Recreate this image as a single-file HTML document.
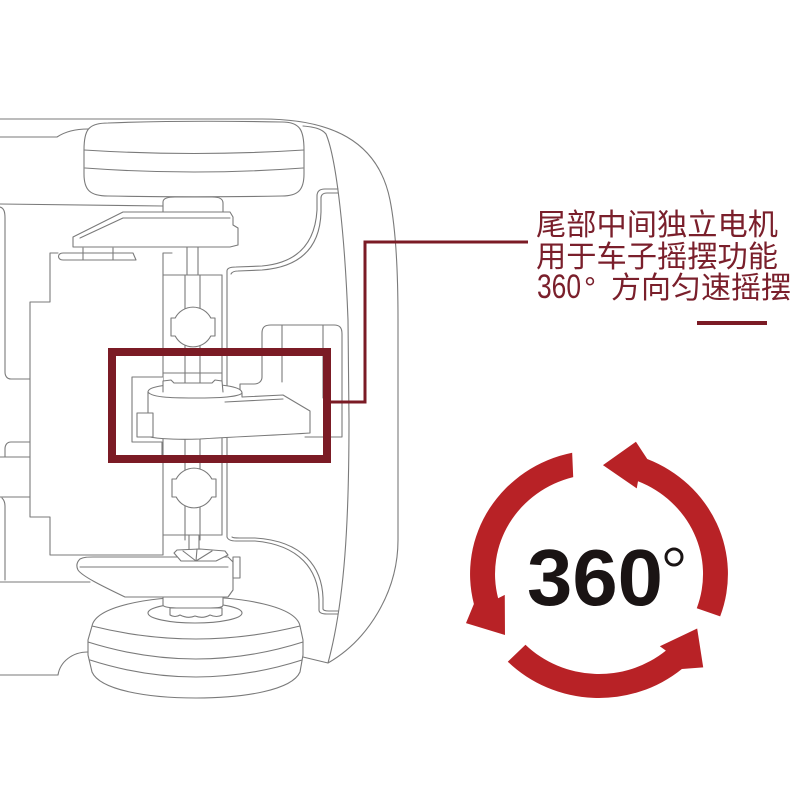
<!DOCTYPE html>
<html>
<head>
<meta charset="utf-8">
<style>
html,body{margin:0;padding:0;background:#fff;}
svg{display:block;}
</style>
</head>
<body>
<svg width="800" height="800" viewBox="0 0 800 800" xmlns="http://www.w3.org/2000/svg">
<rect width="800" height="800" fill="#fff"/>

<!-- ===== Car line drawing ===== -->
<g fill="none" stroke="#7a7a7a" stroke-width="1.1" stroke-linejoin="round" stroke-linecap="round">
  <!-- outer body -->
  <path d="M0,119 L262,119 C330,119 378,140 390,200 C396,230 398,270 398,320 L398,540 C398,592 368,640 328,663 L303,657"/>
  <!-- inner body line -->
  <path d="M303,126 C315,127 322,129 326,134 C337,160 345,240 348,320 L349,420 C349,520 345,600 328,663"/>
  <!-- top-left small line -->
  <path d="M0,137 L57,137 C66,131 76,129 88,129"/>
  <path d="M0,204 L163,206"/>
  <!-- far-left strip -->
  <path d="M0,207 C4,208 5,212 5,218 L5,372 C5,376 7,379 11,379 L30,379"/>
  <path d="M30,442 L11,442 C7,442 5,445 5,449 L5,457"/>
  <path d="M0,457 L30,457"/>
  <path d="M0,497 L30,497"/>
  <path d="M2,498 C4,500 5,502 5,506 L5,580"/>
  <path d="M0,582 L90,582"/>
  <!-- big left block -->
  <path d="M58,253 L50,253 L50,302 L30,302 L30,517 L50,517 L50,555 L163,555"/>
  <!-- channel -->
  <path d="M163,253 L172,253 M163,253 L163,555"/>
  <path d="M222,275 L222,535"/>
  <path d="M227,271 L227,537"/>
  <path d="M163,275 L222,275 M163,373 L222,373 M163,535 L222,535"/>
  <!-- shaft -->
  <path d="M187,247 L187,275 M198,247 L198,275"/>
  <path d="M185,275 L185,540 M200,275 L200,540"/>
  <path d="M189,535 L189,552 M199,535 L199,552"/>
  <!-- top-right double curve -->
  <path d="M227,271 C227,268 230,267 236,267 L262,266 C296,263 315,245 317,210 L317,196 C317,191 320,189 325,189 L338,189"/>
  <path d="M231,274 C232,272 234,271 238,271 L262,270 C300,267 320,248 321,212 L321,198 C321,195 323,193 327,193 L338,193"/>
  <!-- bottom-right double curve -->
  <path d="M227,537 C228,540 231,541 236,541 L255,541 C300,545 318,570 319,600 L319,610 C319,613 322,614 327,614 L338,614"/>
  <path d="M232,537 C233,538 235,538 240,538 L255,538 C304,541 322,568 323,598 L323,609 C323,610 325,611 329,611 L338,611"/>
  <!-- right box -->
  <path d="M262,377 L262,333 C262,327 265,325 271,325 L334,325 C340,325 342,328 342,334 L342,437 L305,437"/>
  <path d="M262,377 C262,381 259,384 254,384 L240,384 L240,393"/>
  <path d="M282,325 L282,382 M323,325 L323,398"/>

  <!-- top wheel -->
  <path fill="#fff" d="M84,150 C84,130 88,123 108,123 C160,121 230,121 282,122 C300,122 304,130 304,150 L304,174 C304,190 298,196 282,196 C230,197 160,197 108,196 C90,196 84,190 84,174 Z"/>
  <path d="M84,150 Q194,157 304,150"/>
  <path d="M85,168 Q194,176 303,168"/>
  <!-- top hub -->
  <path fill="#fff" d="M163,213 L163,202 C163,198 168,197 175,197 L212,197 C220,197 223,199 223,203 L223,213"/>
  <!-- top arm -->
  <path fill="#fff" d="M123,212 L230,212 L233,217 L233,225 L238,228 L238,245 L230,247 L73,247 L73,237 Z"/>
  <path d="M123,218 L230,218 M123,218 L80,238"/>
  <!-- tab under arm -->
  <path fill="#fff" d="M63,253 L133,253 L136,260 L63,260 C57,260 57,253 63,253 Z"/>
  <path d="M83,248 L83,260 M113,248 L113,260"/>

  <!-- joints -->
  <path fill="#fff" transform="translate(193,327)" d="M-17.8,-9 A20,20 0 0 1 17.8,-9 L22,-9 L22,9 L17.8,9 A20,20 0 0 1 -17.8,9 L-22,9 L-22,-9 Z"/>
  <path fill="#fff" transform="translate(194,488)" d="M-17.8,-9 A20,20 0 0 1 17.8,-9 L22,-9 L22,9 L17.8,9 A20,20 0 0 1 -17.8,9 L-22,9 L-22,-9 Z"/>

  <!-- motor assembly -->
  <path fill="#fff" d="M163,377 L132,377 L132,442 L162,442 L162,456"/>
  <path fill="#fff" d="M148,392 C148,386 170,384 195,384 C225,384 242,387 242,393 L242,397 L283,395 L310,411 L310,433 C280,435 230,437 200,439 C170,440 150,438 148,436 Z"/>
  <path d="M148,392 C152,398 175,398 200,398 C225,398 240,396 242,393"/>
  <path d="M225,402 L283,399"/>
  <path fill="#fff" d="M163,392 L163,381 L171,380 L174,383 L212,383 L215,380 L222,381 L223,392"/>
  <rect x="137" y="413" width="16" height="24" fill="#fff"/>

  <!-- lower wheel -->
  <path fill="#fff" d="M92,626 C96,606 150,597 196,597 C242,597 296,606 300,626 L303,640 L303,655 L300,672 C292,690 245,698 196,698 C147,698 100,690 92,672 L88,655 L88,640 Z"/>
  <path d="M92,626 Q196,652 300,626"/>
  <path d="M88,642 Q196,676 303,642"/>
  <path d="M90,660 Q196,694 302,660"/>
  <ellipse cx="195" cy="613" rx="47" ry="10" fill="#fff"/>
  <!-- lower-left body -->
  <path d="M0,675 L58,675 C60,662 72,652 88,652"/>

  <!-- lower arm -->
  <path fill="#fff" d="M93,557 L228,557 L233,562 L233,590 L228,597 L125,597 C100,585 82,576 78,570 C76,566 77,562 80,559 C84,557 88,557 93,557 Z"/>
  <path d="M80,567 L228,567"/>
  <rect x="233" y="557" width="7" height="21" fill="#fff"/>
  <!-- fan hub -->
  <path fill="#fff" d="M174,553 L181,561 L216,561 L228,555 L225,551 L200,549 L177,550 Z"/>
  <path d="M196,561 L183,551 M196,561 L197,549 M196,561 L212,551"/>
  <!-- lower hub + nut -->
  <path fill="#fff" d="M163,597 L163,605 C163,607 170,608 180,608 L210,608 C220,608 223,607 223,605 L223,597 Z"/>
  <path fill="#fff" d="M170,608 L170,615 Q175,618 180,615 Q188,619 195,616 Q203,619 210,615 Q217,618 222,615 L222,608 Z"/>
</g>

<!-- ===== Red highlight box & connector ===== -->
<rect x="112" y="352" width="215" height="107" fill="none" stroke="#7b1b25" stroke-width="8"/>
<polyline points="331,402 365,402 365,242 528,242" fill="none" stroke="#7b1b25" stroke-width="3"/>

<!-- ===== Description text ===== -->
<g fill="#7a1f2b" font-family="'Liberation Sans','Noto Sans CJK SC',sans-serif">
  <text x="536" y="235" font-size="30" textLength="242" lengthAdjust="spacingAndGlyphs">尾部中间独立电机</text>
  <text x="536" y="267" font-size="30" textLength="242" lengthAdjust="spacingAndGlyphs">用于车子摇摆功能</text>
  <text x="537" y="298" font-size="34" textLength="44" lengthAdjust="spacingAndGlyphs">360</text>
  <text x="584" y="298" font-size="30">°</text>
  <text x="611" y="298" font-size="30" textLength="180" lengthAdjust="spacingAndGlyphs">方向匀速摇摆</text>
</g>
<rect x="697" y="321" width="70" height="4" fill="#7b1b25"/>

<!-- ===== 360 rotation icon ===== -->
<g transform="translate(599,574) scale(1.04,1)" fill="#b82226">
  <path d="M116.5,42.4 A124,124 0 0 0 46.4,-115.0 L35.5,-132.3 L3.8,-108.9 L36.3,-85.6 L37.5,-92.7 A100,100 0 0 1 94.0,34.2 Z"/>
  <path d="M-25.8,-121.3 A124,124 0 0 0 -120.3,30.0 L-127.9,49.1 L-90.4,61.0 L-90.6,20.9 L-97.0,24.2 A100,100 0 0 1 -24.8,-96.9 Z"/>
  <path d="M-87.7,87.7 A124,124 0 0 0 79.7,95.0 L100.2,93.4 L94.4,54.5 L58.5,72.3 L64.3,76.6 A100,100 0 0 1 -70.7,70.7 Z"/>
</g>
<text x="527" y="605" font-family="'Liberation Sans',sans-serif" font-weight="bold" font-size="80" fill="#1a1414" textLength="136" lengthAdjust="spacingAndGlyphs">360</text>
<circle cx="674" cy="557" r="8" fill="none" stroke="#1a1414" stroke-width="3"/>
</svg>
</body>
</html>
